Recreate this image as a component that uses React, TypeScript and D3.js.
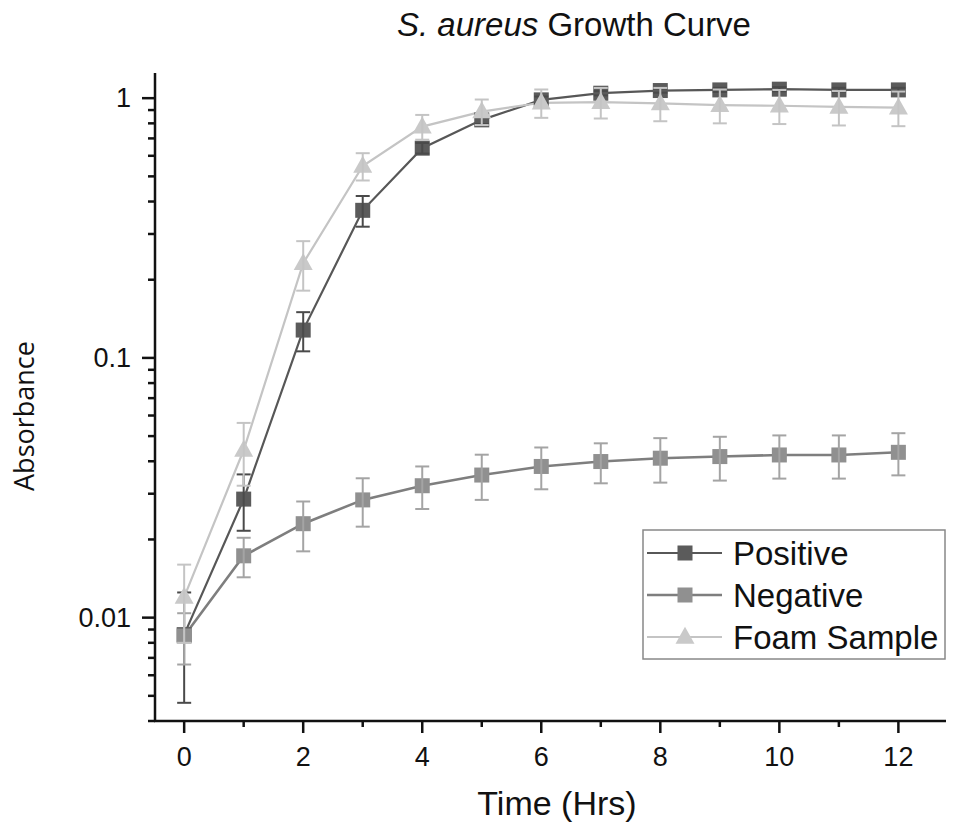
import React from "react";
import * as d3 from "d3";

const times = [0, 1, 2, 3, 4, 5, 6, 7, 8, 9, 10, 11, 12];
const positive = [0.0086, 0.0286, 0.128, 0.37, 0.642, 0.825, 0.985, 1.045, 1.07, 1.076, 1.083, 1.076, 1.076];
const positiveErr = [0.0039, 0.007, 0.022, 0.05, 0.03, 0.03, 0.03, 0.02, 0.02, 0.02, 0.02, 0.02, 0.02];
const negative = [0.0085, 0.0173, 0.023, 0.0284, 0.0322, 0.0354, 0.0382, 0.0399, 0.0411, 0.0417, 0.0423, 0.0423, 0.0433];
const negativeErr = [0.0019, 0.003, 0.005, 0.006, 0.006, 0.007, 0.007, 0.007, 0.008, 0.008, 0.008, 0.008, 0.008];
const foam = [0.012, 0.0442, 0.2315, 0.548, 0.777, 0.888, 0.96, 0.965, 0.955, 0.94, 0.935, 0.925, 0.92];
const foamErr = [0.004, 0.012, 0.05, 0.066, 0.085, 0.1, 0.12, 0.13, 0.14, 0.14, 0.14, 0.14, 0.14];
const xTickValues = [0, 2, 4, 6, 8, 10, 12];
const xMinorValues = [1, 3, 5, 7, 9, 11];
const yTickValues = [0.01, 0.1, 1];
const yTickLabels = ["0.01", "0.1", "1"];
const seriesNames = ["Positive", "Negative", "Foam Sample"];

const W = 953, H = 826;
const left = 155, right = 946, top = 73, bottom = 721;

export default function App() {
  const x = d3.scaleLinear().domain([-0.49, 12.8]).range([left, right]);
  const y = d3.scaleLog().domain([0.004, 1.25]).range([bottom, top]);

  const series = [
    { name: seriesNames[0], vals: positive, err: positiveErr, line: "#575757", fill: "#5b5b5b", err_c: "#4a4a4a", lw: 2.2, shape: "square" },
    { name: seriesNames[1], vals: negative, err: negativeErr, line: "#7e7e7e", fill: "#909090", err_c: "#a4a4a4", lw: 2.6, shape: "square" },
    { name: seriesNames[2], vals: foam, err: foamErr, line: "#c4c4c4", fill: "#c9c9c9", err_c: "#c4c4c4", lw: 2.2, shape: "triangle" },
  ];

  const lineGen = d3.line<number>().x((_, i) => x(times[i])).y((v) => y(v));

  const minor: number[] = [];
  for (let dec = -3; dec <= 0; dec++) {
    for (let k = 2; k <= 9; k++) {
      const v = k * Math.pow(10, dec);
      if (v >= 0.004 && v <= 1.25) minor.push(v);
    }
  }

  const marker = (shape: string, cx: number, cy: number, fill: string, key: string, s = 14) => {
    if (shape === "square") {
      return <rect key={key} x={cx - s / 2} y={cy - s / 2} width={s} height={s} fill={fill} />;
    }
    const h = s + 1;
    const b = s + 3;
    return (
      <path key={key} d={`M${cx},${cy - h * 0.6} L${cx + b / 2},${cy + h * 0.4} L${cx - b / 2},${cy + h * 0.4} Z`} fill={fill} />
    );
  };

  const font = "'Liberation Sans', Arial, sans-serif";
  const legendRows = [553, 595, 637];

  return (
    <div style={{ position: "absolute", left: 0, top: 0 }}>
      <svg width={W} height={H} style={{ display: "block", background: "#fff" }}>
        {/* title */}
        <text x={574} y={36} textAnchor="middle" fontFamily={font} fontSize={33} fill="#111">
          <tspan fontStyle="italic">S. aureus</tspan> Growth Curve
        </text>

        {/* series lines */}
        {series.map((s) => (
          <path key={s.name + "l"} d={lineGen(s.vals) || ""} fill="none" stroke={s.line} strokeWidth={s.lw} />
        ))}
        {/* markers and error bars */}
        {series.map((s) => (
          <g key={s.name + "m"}>
            {s.vals.map((v, i) => marker(s.shape, x(times[i]), y(v), s.fill, s.name + i, s.shape === "square" ? 15 : 16))}
            {s.vals.map((v, i) => {
              const cx = x(times[i]);
              const y1 = y(v + s.err[i]);
              const y2 = y(Math.max(v - s.err[i], 0.0041));
              return (
                <g key={s.name + "e" + i} stroke={s.err_c} strokeWidth={2}>
                  <line x1={cx} x2={cx} y1={y1} y2={y2} />
                  <line x1={cx - 7} x2={cx + 7} y1={y1} y2={y1} />
                  <line x1={cx - 7} x2={cx + 7} y1={y2} y2={y2} />
                </g>
              );
            })}
          </g>
        ))}

        {/* axes */}
        <g stroke="#111" strokeWidth={2.5} fill="none">
          <line x1={left} x2={left} y1={top} y2={bottom + 1} />
          <line x1={left - 1} x2={right} y1={bottom} y2={bottom} />
        </g>
        <g stroke="#111" strokeWidth={2.5}>
          {yTickValues.map((v) => (
            <line key={"yt" + v} x1={left - 13} x2={left} y1={y(v)} y2={y(v)} />
          ))}
          {minor.map((v) => (
            <line key={"ym" + v} x1={left - 7} x2={left} y1={y(v)} y2={y(v)} />
          ))}
          {xTickValues.map((v) => (
            <line key={"xt" + v} x1={x(v)} x2={x(v)} y1={bottom} y2={bottom + 12} />
          ))}
          {xMinorValues.map((v) => (
            <line key={"xm" + v} x1={x(v)} x2={x(v)} y1={bottom} y2={bottom + 6} />
          ))}
        </g>
        <g fontFamily={font} fontSize={27} fill="#111">
          {yTickValues.map((v, i) => (
            <text key={"yl" + v} x={131} y={y(v)} textAnchor="end" dominantBaseline="central">
              {yTickLabels[i]}
            </text>
          ))}
          {xTickValues.map((v) => (
            <text key={"xl" + v} x={x(v)} y={766} textAnchor="middle">
              {v}
            </text>
          ))}
        </g>
        <text x={557} y={815} textAnchor="middle" fontFamily={font} fontSize={34} fill="#111">
          Time (Hrs)
        </text>
        <text
          transform={`translate(34,416) rotate(-90)`}
          textAnchor="middle"
          fontFamily="'Open Sans', 'Noto Sans', sans-serif"
          fontSize={27}
          fill="#111"
        >
          Absorbance
        </text>

        {/* legend */}
        <rect x={643} y={530} width={302} height={129} fill="#fff" stroke="#888" strokeWidth={1.5} />
        {series.map((s, i) => (
          <g key={s.name + "leg"}>
            <line x1={647} x2={722} y1={legendRows[i]} y2={legendRows[i]} stroke={s.line} strokeWidth={s.lw} />
            {marker(s.shape, 685, legendRows[i], s.fill, s.name + "lm", s.shape === "square" ? 15 : 16)}
            <text x={733} y={legendRows[i]} dominantBaseline="central" fontFamily={font} fontSize={33} fill="#111">
              {s.name}
            </text>
          </g>
        ))}
      </svg>
    </div>
  );
}
